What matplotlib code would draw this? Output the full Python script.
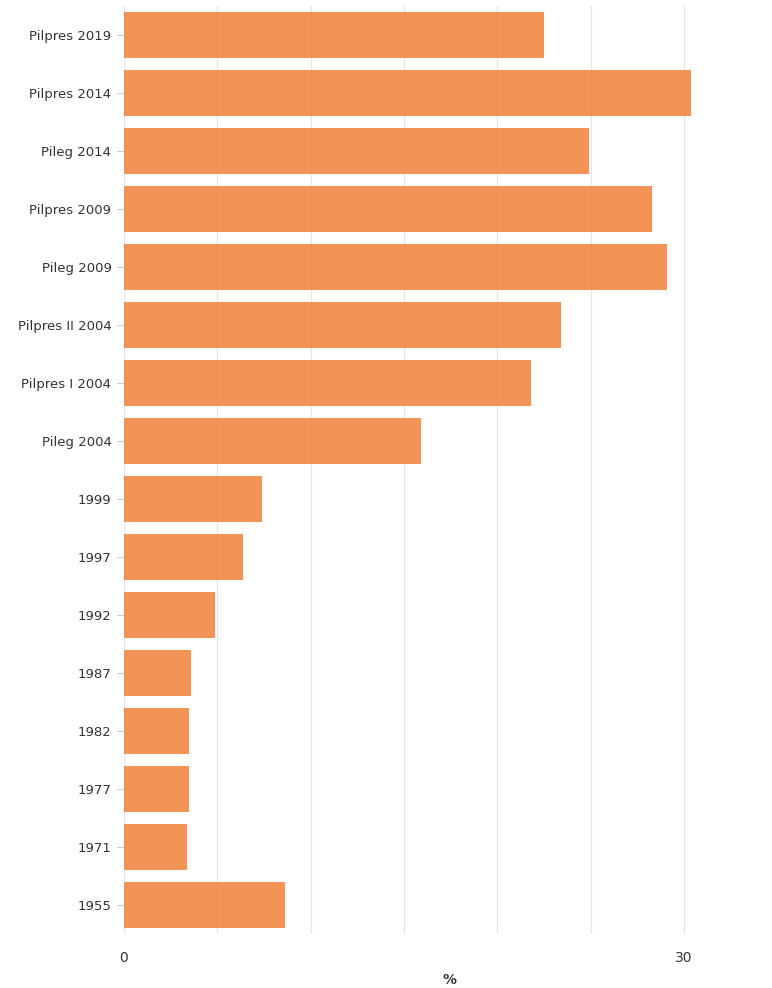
import matplotlib
matplotlib.use("Agg")
import matplotlib.pyplot as plt
from matplotlib.ticker import MultipleLocator, FixedLocator

categories = ["Pilpres 2019", "Pilpres 2014", "Pileg 2014", "Pilpres 2009", "Pileg 2009",
              "Pilpres II 2004", "Pilpres I 2004", "Pileg 2004", "1999", "1997", "1992",
              "1987", "1982", "1977", "1971", "1955"]
values = [22.5, 30.4, 24.9, 28.3, 29.1, 23.4, 21.8, 15.9, 7.4, 6.4, 4.9, 3.6, 3.5, 3.5, 3.4, 8.6]
x_ticks = [0, 30]
x_label = "%"

fig = plt.figure(figsize=(7.72, 9.88), dpi=100)
ax = fig.add_axes([124/772, 1-934/988, (760-124)/772, (934-6)/988])

y = list(range(len(categories)))
ax.barh(y, values, height=0.8, color="#F2843F", alpha=0.88, zorder=2, edgecolor="none")
ax.set_ylim(len(categories) - 0.5, -0.5)
ax.set_yticks(y)
ax.set_yticklabels(categories)
ax.set_xlim(0, 34.07)
ax.xaxis.set_major_locator(FixedLocator(x_ticks))
ax.xaxis.set_minor_locator(MultipleLocator(5))
ax.grid(True, axis="x", which="both", color="#e6e6e6", linewidth=1, zorder=0)
for s in ax.spines.values():
    s.set_visible(False)
ax.tick_params(axis="y", length=5, color="#cccccc", labelsize=9.5, labelcolor="#333333", pad=4)
ax.tick_params(axis="x", which="both", length=0, labelsize=10, labelcolor="#333333", pad=12)
fig.text(450/772, 1-980/988, x_label, ha="center", va="center", fontsize=10,
         fontweight="bold", color="#333333")
fig.savefig("out.png", dpi=100)
